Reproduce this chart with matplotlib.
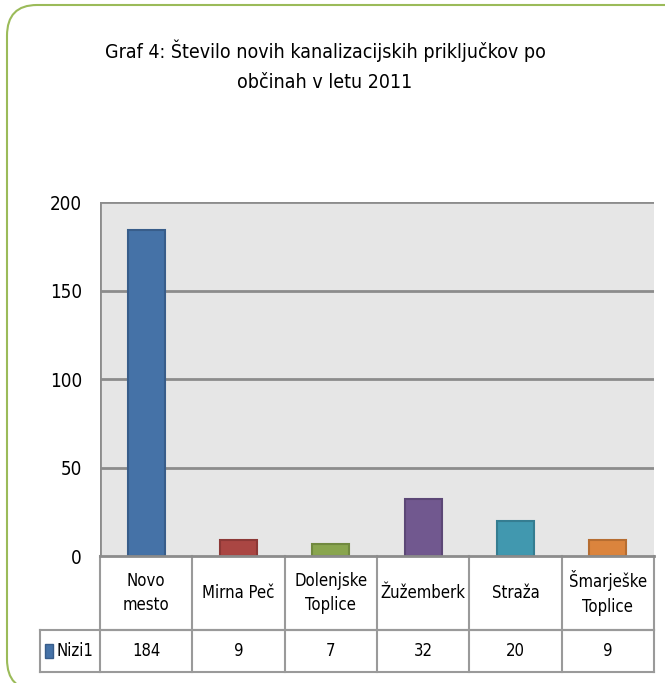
import numpy as np
import matplotlib
matplotlib.use('Agg')
import matplotlib.pyplot as plt
from matplotlib.patches import FancyBboxPatch, Rectangle
from matplotlib.transforms import blended_transform_factory

# data
categories = ['Novo\nmesto', 'Mirna Peč', 'Dolenjske\nToplice', 'Žužemberk', 'Straža', 'Šmarješke\nToplice']
values = [184, 9, 7, 32, 20, 9]
series_name = 'Nizi1'
yticks = [0, 50, 100, 150, 200]
title = 'Graf 4: Število novih kanalizacijskih priključkov po\nobčinah v letu 2011'

colors = ['#4572A7', '#AA4643', '#89A54E', '#71588F', '#4198AF', '#DB843D']
edges = ['#385d8a', '#8c3836', '#71893f', '#5c4776', '#357d91', '#b66d31']

plt.rcParams['font.family'] = ['DejaVu Sans']
plt.rcParams['font.stretch'] = 'condensed'

W, H = 665, 683
fig = plt.figure(figsize=(W / 100, H / 100), dpi=100)

# outer rounded green border (cut off at right like the source)
border = FancyBboxPatch((7 / W, 1 - 690 / H), 700 / W, 685 / H,
                        boxstyle='round,pad=0,rounding_size=0.045',
                        transform=fig.transFigure, facecolor='none',
                        edgecolor='#9BBB59', linewidth=1.5, zorder=-1)
fig.patches.append(border)

fig.text(325 / W, 1 - 66 / H, title, ha='center', va='center', fontsize=14,
         linespacing=1.7)

# plot area
left, right, top, bottom = 100, 654, 202, 556
ax = fig.add_axes([left / W, 1 - bottom / H, (right - left) / W, (bottom - top) / H])
ax.set_facecolor('#e6e6e6')
x = np.arange(len(values))
ax.bar(x, values, width=0.4, color=colors, edgecolor=edges, linewidth=1.5, zorder=3)
ax.set_xlim(-0.5, len(values) - 0.5)
ax.set_ylim(0, 200)
ax.set_yticks(yticks)
ax.set_yticklabels([str(t) for t in yticks], fontsize=13.5)
ax.tick_params(axis='y', length=0, pad=13)
ax.set_xticks([])
for s in ['top', 'right', 'left']:
    ax.spines[s].set_visible(False)
ax.spines['bottom'].set_color('#8c8c8c')
ax.spines['bottom'].set_linewidth(2)
ax.spines['bottom'].set_zorder(4)
for t in yticks[1:]:
    ax.axhline(t, color='#8c8c8c', linewidth=2, zorder=1)
ax.axvline(-0.5, color='#8c8c8c', linewidth=2, zorder=1)

# data table under the chart
axh = bottom - top
r1 = -(630 - bottom) / axh
r2 = -(672 - bottom) / axh
step = (right - left) / len(values)
xleg = -0.5 - (left - 40) / step
tr = blended_transform_factory(ax.transData, ax.transAxes)
lc = '#9a9a9a'
kw = dict(transform=tr, clip_on=False, color=lc, linewidth=1.5)
ax.plot([-0.5, len(values) - 0.5], [r1, r1], **kw)
ax.plot([xleg, len(values) - 0.5], [r1, r1], **kw)
ax.plot([xleg, len(values) - 0.5], [r2, r2], **kw)
ax.plot([xleg, xleg], [r1, r2], **kw)
for i in range(len(values) + 1):
    ax.plot([i - 0.5, i - 0.5], [0, r2], **kw)
for i, (c, v) in enumerate(zip(categories, values)):
    ax.text(i, r1 / 2, c, transform=tr, ha='center', va='center', fontsize=12,
            linespacing=1.5)
    ax.text(i, (r1 + r2) / 2, str(v), transform=tr, ha='center', va='center',
            fontsize=12)
ax.add_patch(Rectangle((xleg + 5 / step, (r1 + r2) / 2 - 7 / axh), 8 / step, 14 / axh,
                       transform=tr, clip_on=False, facecolor=colors[0],
                       edgecolor=edges[0], linewidth=1))
ax.text(xleg + 16 / step, (r1 + r2) / 2, series_name, transform=tr, ha='left',
        va='center', fontsize=12)

fig.savefig('out.png', dpi=100)
